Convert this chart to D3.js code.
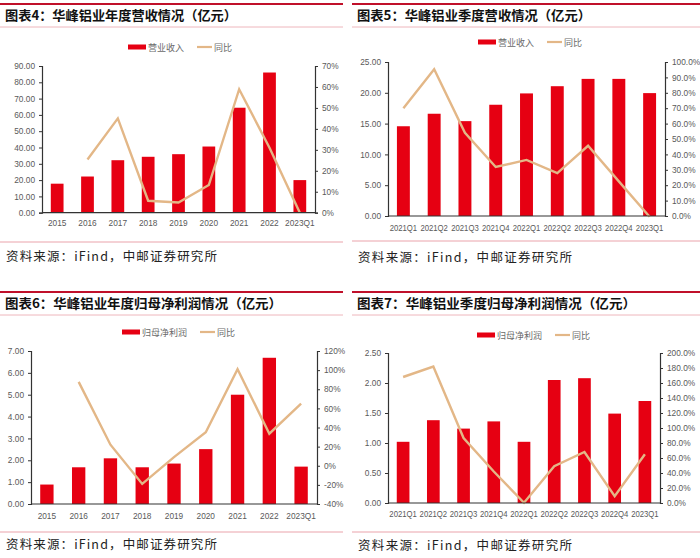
<!DOCTYPE html>
<html>
<head>
<meta charset="utf-8">
<script src="https://cdn.jsdelivr.net/npm/d3@7"></script>
<style>
  body { margin: 0; background: #fff; }
  svg { display: block; }
  .title { font-family: "Noto Sans CJK SC", sans-serif; font-weight: 700; font-size: 13px; fill: #111; }
  .source { font-family: "Noto Sans CJK SC", sans-serif; font-size: 12.5px; fill: #222; }
  .tick text, .xlab { font-family: "Liberation Sans", Arial, sans-serif; font-size: 8.3px; fill: #595959; }
  .legend text { font-family: "Noto Sans CJK SC", sans-serif; font-size: 9px; fill: #6a6a6a; }
</style>
</head>
<body>
<svg id="chart" width="700" height="558"></svg>
<script>
//data
const years = ['2015', '2016', '2017', '2018', '2019', '2020', '2021', '2022', '2023Q1'];
const quarters = ['2021Q1', '2021Q2', '2021Q3', '2021Q4', '2022Q1', '2022Q2', '2022Q3', '2022Q4', '2023Q1'];

const yearRevenue = [17.8, 22.2, 32.2, 34.3, 35.9, 40.6, 64.4, 86.0, 20.0];
const yearRevenueYoy = [null, 25.4, 45.0, 5.7, 4.9, 13.2, 58.9, 31.0, 0.0];

const quarterRevenue = [14.57, 16.6, 15.4, 18.06, 19.9, 21.07, 22.26, 22.26, 19.95];
const quarterRevenueYoy = [70.0, 95.3, 54.0, 31.8, 36.4, 27.9, 45.6, 22.5, -0.5];

const yearProfit = [0.89, 1.68, 2.09, 1.68, 1.85, 2.51, 5.0, 6.69, 1.71];
const yearProfitYoy = [null, 87.7, 22.0, -19.0, 9.0, 35.0, 101.0, 33.5, 65.0];

const quarterProfit = [1.02, 1.38, 1.24, 1.36, 1.02, 2.05, 2.08, 1.49, 1.70];
const quarterProfitYoy = [168.0, 182.0, 86.7, 42.0, 0.3, 49.0, 68.0, 9.0, 65.0];

const leftTicks1 = [0, 10, 20, 30, 40, 50, 60, 70, 80, 90];
const rightTicks1 = [0, 10, 20, 30, 40, 50, 60, 70];
const leftTicks2 = [0, 5, 10, 15, 20, 25];
const rightTicks2 = [0, 10, 20, 30, 40, 50, 60, 70, 80, 90, 100];
const leftTicks3 = [0, 1, 2, 3, 4, 5, 6, 7];
const rightTicks3 = [-40, -20, 0, 20, 40, 60, 80, 100, 120];
const leftTicks4 = [0, 0.5, 1, 1.5, 2, 2.5];
const rightTicks4 = [0, 20, 40, 60, 80, 100, 120, 140, 160, 180, 200];

//colors
const RED = '#e60012';
const TAN = '#e3b787';
const DARKRED = '#c0102a';
const PINK = '#eaa3ab';
const SOURCE = '资料来源：iFind，中邮证券研究所';

const svg = d3.select('#chart');

//panels
const panels = [
  {
    title: '图表4：华峰铝业年度营收情况（亿元）', titleW: 232, barName: '营业收入',
    cats: years, bars: yearRevenue, line: yearRevenueYoy, labW: null,
    lt: leftTicks1, rt: rightTicks1, lfmt: d3.format('.2f'), rfmt: d => d + '%',
    x0: 0, x1: 343, top: 4, legendY: 47, legendX: 128,
    left: 42, right: 315, pTop: 66, pBottom: 212.7, xlabY: 226, sepY: 242, srcY: 261, srcW: 211
  },
  {
    title: '图表5：华峰铝业季度营收情况（亿元）', titleW: 234, barName: '营业收入',
    cats: quarters, bars: quarterRevenue, line: quarterRevenueYoy, labW: 27.5,
    lt: leftTicks2, rt: rightTicks2, lfmt: d3.format('.2f'), rfmt: d => d.toFixed(1) + '%',
    x0: 352, x1: 700, top: 4, legendY: 42, legendX: 478,
    left: 388, right: 665, pTop: 62, pBottom: 216, xlabY: 231, sepY: 241, srcY: 262, srcW: 214
  },
  {
    title: '图表6：华峰铝业年度归母净利润情况（亿元）', titleW: 277, barName: '归母净利润',
    cats: years, bars: yearProfit, line: yearProfitYoy, labW: null,
    lt: leftTicks3, rt: rightTicks3, lfmt: d3.format('.2f'), rfmt: d => d + '%',
    x0: 0, x1: 343, top: 292, legendY: 332, legendX: 122,
    left: 31, right: 317, pTop: 351, pBottom: 504, xlabY: 519, sepY: 532, srcY: 549, srcW: 211
  },
  {
    title: '图表7：华峰铝业季度归母净利润情况（亿元）', titleW: 279, barName: '归母净利润',
    cats: quarters, bars: quarterProfit, line: quarterProfitYoy, labW: 27.5,
    lt: leftTicks4, rt: rightTicks4, lfmt: d3.format('.2f'), rfmt: d => d.toFixed(1) + '%',
    x0: 352, x1: 700, top: 292, legendY: 335, legendX: 477,
    left: 388, right: 660, pTop: 353, pBottom: 503, xlabY: 517, sepY: 532, srcY: 550, srcW: 214
  }
];

panels.forEach(drawPanel);

function drawPanel(p) {
  const g = svg.append('g');

  // header
  g.append('line')
    .attr('x1', p.x0).attr('x2', p.x1)
    .attr('y1', p.top).attr('y2', p.top)
    .attr('stroke', DARKRED).attr('stroke-width', 2);
  g.append('text')
    .attr('class', 'title')
    .attr('x', p.x0 + 5).attr('y', p.top + 16)
    .attr('textLength', p.titleW)
    .attr('lengthAdjust', 'spacingAndGlyphs')
    .text(p.title);
  g.append('line')
    .attr('x1', p.x0).attr('x2', p.x1)
    .attr('y1', p.top + 23).attr('y2', p.top + 23)
    .attr('stroke', PINK).attr('stroke-width', 0.8);

  // footer
  g.append('line')
    .attr('x1', p.x0).attr('x2', p.x1)
    .attr('y1', p.sepY).attr('y2', p.sepY)
    .attr('stroke', PINK).attr('stroke-width', 1);
  g.append('text')
    .attr('class', 'source')
    .attr('x', p.x0 + 6).attr('y', p.srcY)
    .attr('textLength', p.srcW)
    .attr('lengthAdjust', 'spacing')
    .text(SOURCE);

  // scales
  const x = d3.scaleBand()
    .domain(p.cats)
    .range([p.left, p.right])
    .paddingInner(0.58).paddingOuter(0.29);
  const yL = d3.scaleLinear()
    .domain(d3.extent(p.lt))
    .range([p.pBottom, p.pTop]);
  const yR = d3.scaleLinear()
    .domain(d3.extent(p.rt))
    .range([p.pBottom, p.pTop]);

  // bars
  g.selectAll('.bar')
    .data(p.cats.map((c, i) => ({ c, v: p.bars[i] })))
    .join('rect')
    .attr('class', 'bar')
    .attr('x', d => x(d.c))
    .attr('width', x.bandwidth())
    .attr('y', d => yL(d.v))
    .attr('height', d => yL(0) - yL(d.v))
    .attr('fill', RED);

  // line
  const line = d3.line()
    .defined(d => d.v != null)
    .x(d => x(d.c) + x.bandwidth() / 2)
    .y(d => yR(d.v));
  g.append('path')
    .datum(p.cats.map((c, i) => ({ c, v: p.line[i] })))
    .attr('fill', 'none')
    .attr('stroke', TAN)
    .attr('stroke-width', 2.4)
    .attr('stroke-linejoin', 'miter')
    .attr('d', line);

  // axes
  const axL = g.append('g')
    .attr('transform', `translate(${p.left},0)`)
    .call(d3.axisLeft(yL).tickValues(p.lt).tickFormat(p.lfmt).tickSize(3).tickPadding(4));
  const axR = g.append('g')
    .attr('transform', `translate(${p.right},0)`)
    .call(d3.axisRight(yR).tickValues(p.rt).tickFormat(p.rfmt).tickSize(3).tickPadding(4));
  [axL, axR].forEach(a => {
    a.select('.domain').attr('stroke', '#333').attr('stroke-width', 1.2);
    a.selectAll('.tick line').attr('stroke', '#333');
  });

  g.append('line')
    .attr('x1', p.left).attr('x2', p.right)
    .attr('y1', p.pBottom).attr('y2', p.pBottom)
    .attr('stroke', '#333').attr('stroke-width', 1.2);

  const xl = g.selectAll('.xlab')
    .data(p.cats)
    .join('text')
    .attr('class', 'xlab')
    .attr('x', d => x(d) + x.bandwidth() / 2)
    .attr('y', p.xlabY)
    .attr('text-anchor', 'middle')
    .text(d => d);
  if (p.labW) {
    xl.attr('textLength', p.labW).attr('lengthAdjust', 'spacingAndGlyphs');
  }

  // legend
  const lg = g.append('g').attr('class', 'legend')
    .attr('transform', `translate(${p.legendX},${p.legendY})`);
  lg.append('rect')
    .attr('x', 0).attr('y', -2.5).attr('width', 18).attr('height', 5)
    .attr('fill', RED);
  const t1 = lg.append('text')
    .attr('x', 20).attr('y', 3.5)
    .text(p.barName);
  const w1 = t1.node().getComputedTextLength();
  const lx = 20 + w1 + 13;
  lg.append('line')
    .attr('x1', lx).attr('x2', lx + 15)
    .attr('y1', 0).attr('y2', 0)
    .attr('stroke', TAN).attr('stroke-width', 2.2);
  lg.append('text')
    .attr('x', lx + 17).attr('y', 3.5)
    .text('同比');
}
</script>
</body>
</html>
